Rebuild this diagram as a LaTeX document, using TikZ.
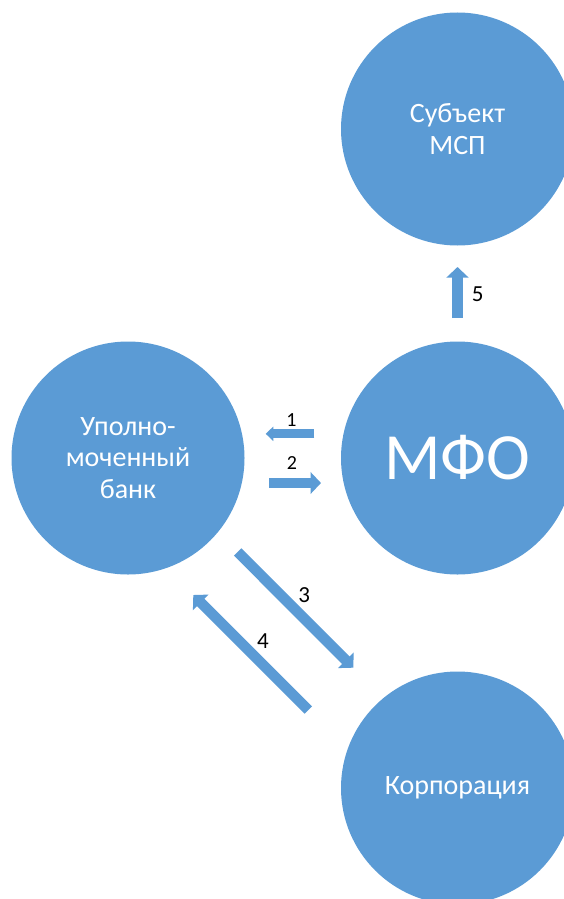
\documentclass[tikz,border=0pt]{standalone}
\usepackage{fontspec}
\setmainfont{Carlito}
\usetikzlibrary{arrows.meta}
\definecolor{circblue}{RGB}{91,155,213}

\begin{document}
\begin{tikzpicture}[x=1pt, y=1pt,
  party/.style={circle, fill=circblue, minimum size=233pt, inner sep=0pt, outer sep=0pt, text=white, align=center, font=\fontsize{28}{31.5}\selectfont},
  flow/.style={draw=circblue, line width=10.5pt, -{Triangle[length=10.5pt, width=21.5pt]}},
  num/.style={inner sep=0pt, font=\fontsize{23}{28}\selectfont}]
\useasboundingbox (0,0) rectangle (563,-899);

\node[party] at (457.5,-129) (msp) {Субъект\\МСП} ;
\node[party] at (128,-458) (bank) {Уполно-\\моченный\\банк} ;
\node[party, font=\fontsize{66}{79}\selectfont] at (457.5,-458) (mfo) {МФО} ;
\node[party] at (457.5,-788) (corp) {Корпорация} ;

\coordinate (t1) at ([shift={(-26.7,24.2)}]mfo.west) ;
\coordinate (h1) at ([shift={(21.2,24.2)}]bank.east) ;
\coordinate (t2) at ([shift={(24.5,-25)}]bank.east) ;
\coordinate (h2) at ([shift={(-20,-25)}]mfo.west) ;
\coordinate (t3) at ([shift={(109.7,-94)}]bank.center) ;
\coordinate (h3) at ([shift={(-104.2,120.3)}]corp.center) ;
\coordinate (t4) at ([shift={(-149.2,78)}]corp.center) ;
\coordinate (h4) at ([shift={(65.3,-137)}]bank.center) ;
\coordinate (t5) at ([yshift=23.5pt]mfo.north) ;
\coordinate (h5) at ([yshift=-21.5pt]msp.south) ;

\draw[flow, line width=9pt, -{Triangle[length=7.6pt, width=14pt]}] (t1) -- node[num, font=\fontsize{20}{24}\selectfont, above=3pt, pos=0.47] {1} (h1) ;
\draw[flow] (t2) -- node[num, font=\fontsize{20}{24}\selectfont, above=8pt, pos=0.44] {2} (h2) ;
\draw[flow] (t3) -- node[num, above right=0pt, pos=0.48] {3} (h3) ;
\draw[flow] (t4) -- node[num, above right=0pt, pos=0.49] {4} (h4) ;
\draw[flow] (t5) -- node[num, right=9pt, pos=0.47] {5} (h5) ;
\end{tikzpicture}
\end{document}
